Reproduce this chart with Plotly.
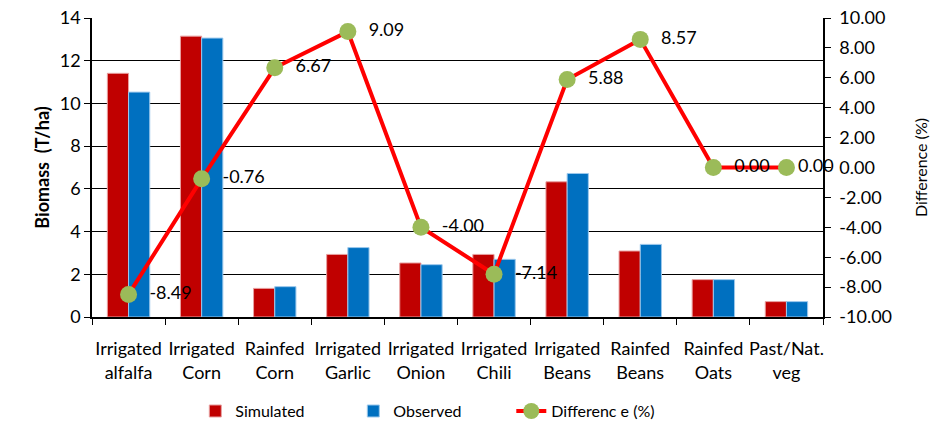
import plotly.graph_objects as go

categories = ["Irrigated<br>alfalfa", "Irrigated<br>Corn", "Rainfed<br>Corn", "Irrigated<br>Garlic",
              "Irrigated<br>Onion", "Irrigated<br>Chili", "Irrigated<br>Beans", "Rainfed<br>Beans",
              "Rainfed<br>Oats", "Past/Nat.<br>veg"]
simulated = [11.41, 13.15, 1.34, 2.93, 2.53, 2.93, 6.33, 3.09, 1.75, 0.72]
observed = [10.53, 13.06, 1.42, 3.25, 2.45, 2.70, 6.72, 3.40, 1.75, 0.72]
difference = [-8.49, -0.76, 6.67, 9.09, -4.00, -7.14, 5.88, 8.57, 0.00, 0.00]
left_ticks = [0, 2, 4, 6, 8, 10, 12, 14]
right_ticks = [-10, -8, -6, -4, -2, 0, 2, 4, 6, 8, 10]

FONT = "Lato"

# label text: padded to the right of markers (last one sits closer, as in the original)
labels = [("  " if i < len(difference) - 1 else "") + f"{v:.2f}" for i, v in enumerate(difference)]

fig = go.Figure()
fig.add_trace(go.Bar(x=categories, y=simulated, name="Simulated",
                     marker=dict(color="#C00000", line=dict(color="#E8A0A0", width=1))))
fig.add_trace(go.Bar(x=categories, y=observed, name="Observed",
                     marker=dict(color="#0070C0", line=dict(color="#9CC8EC", width=1))))
fig.add_trace(go.Scatter(x=categories, y=difference, name="Differenc e (%)", yaxis="y2",
                         mode="lines+markers+text",
                         line=dict(color="#FF0000", width=4),
                         marker=dict(color="#9BBB59", size=17),
                         text=labels,
                         textposition="middle right",
                         textfont=dict(family=FONT, size=18, color="black"),
                         cliponaxis=False))

fig.update_layout(
    width=930, height=426,
    margin=dict(l=92, r=107, t=18, b=109),
    paper_bgcolor="white", plot_bgcolor="white",
    font=dict(family=FONT, size=15, color="black"),
    barmode="group", bargap=0.42, bargroupgap=0,
    showlegend=True,
    legend=dict(orientation="h", xref="container", yref="container",
                x=0.21, xanchor="left", y=0.035, yanchor="middle",
                entrywidth=113, entrywidthmode="pixels",
                font=dict(family=FONT, size=16), traceorder="normal"),
    xaxis=dict(range=[-0.5, 9.5], autorange=False,
               showline=True, linecolor="black", linewidth=1.5, automargin=False, tickangle=0,
               ticks="outside", tickson="boundaries", ticklen=6, tickcolor="black",
               ticklabelstandoff=15,
               tickfont=dict(size=18), showgrid=False),
    yaxis=dict(range=[0, 14], tickvals=left_ticks, showgrid=True, gridcolor="black", gridwidth=1.3,
               showline=True, linecolor="black", linewidth=1.5, ticks="outside", ticklen=6,
               tickcolor="black", tickfont=dict(size=18), automargin=False,
               ticksuffix="\u00a0\u00a0",
               title=dict(text="<b>Biomass  (T/ha)</b>", font=dict(size=18), standoff=5),
               zeroline=False),
    yaxis2=dict(range=[-10, 10], tickvals=right_ticks, ticktext=[f"{v:.2f}" for v in right_ticks],
                overlaying="y", side="right", showgrid=False, showline=True, linecolor="black",
                linewidth=1.5, ticks="outside", ticklen=6, tickcolor="black", automargin=False,
                ticklabelstandoff=5,
                tickfont=dict(size=18), zeroline=False,
                title=dict(text="Difference (%)", font=dict(size=16), standoff=26)),
)

fig.write_html("out.html", config={"displayModeBar": False},
               post_script="document.body.style.margin='0';document.body.style.overflow='hidden';")
